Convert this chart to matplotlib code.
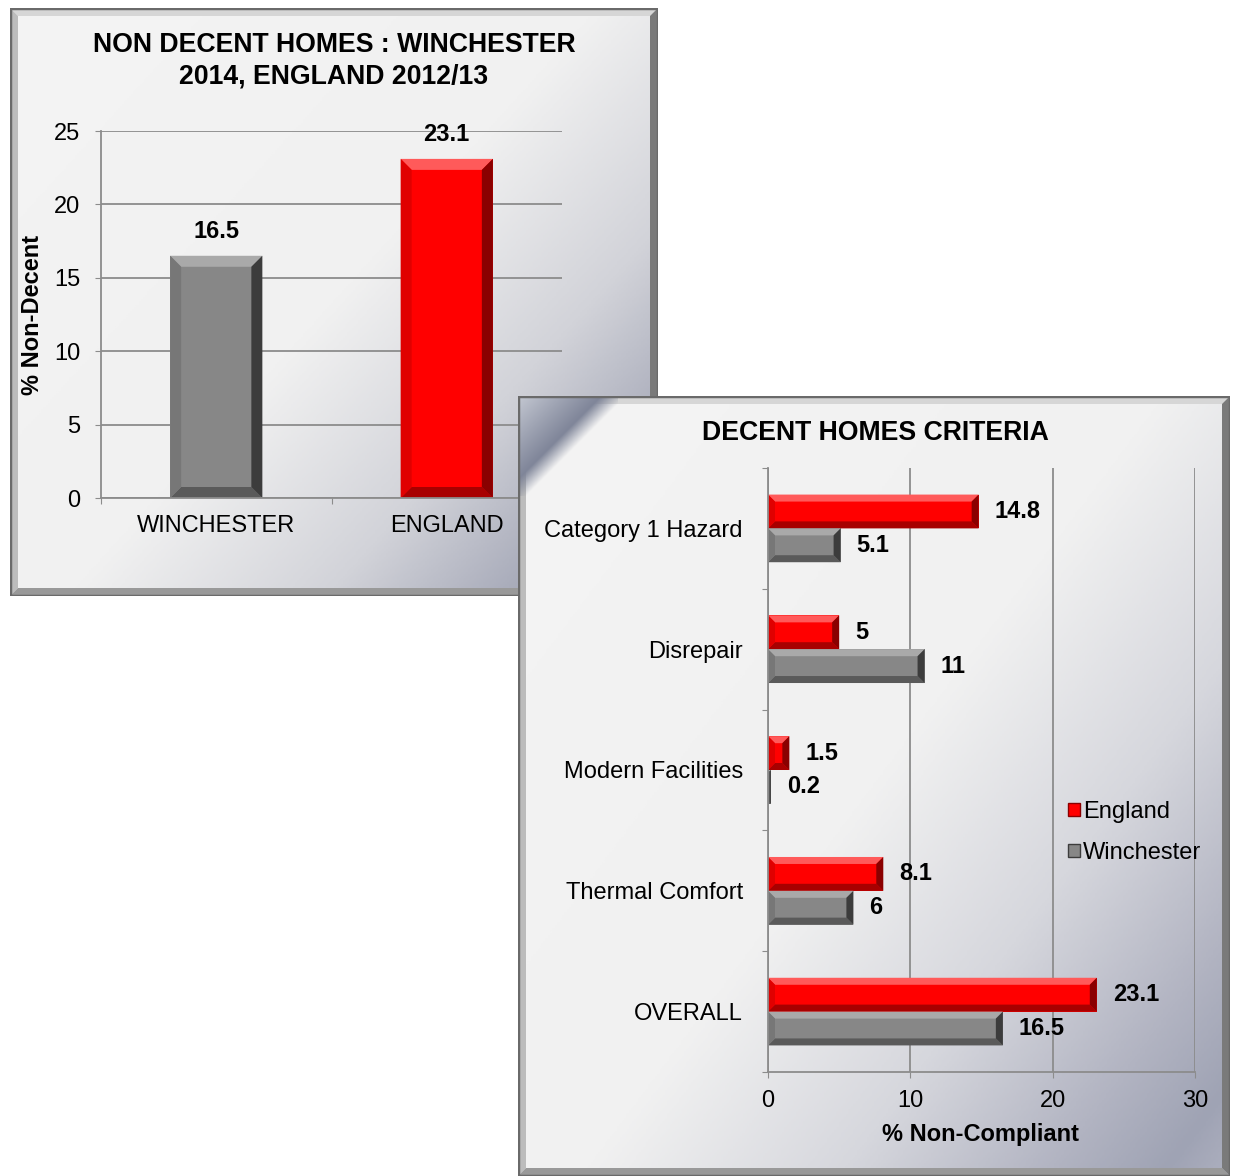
import numpy as np
import matplotlib
matplotlib.use('Agg')
from matplotlib import pyplot as plt
from matplotlib.patches import Polygon, Rectangle
from matplotlib.colors import LinearSegmentedColormap, to_rgb

plt.rcParams['font.family'] = ['Liberation Sans', 'DejaVu Sans']

# data
areas = ['WINCHESTER', 'ENGLAND']
non_decent = [16.5, 23.1]

criteria = ['Category 1 Hazard', 'Disrepair', 'Modern Facilities',
            'Thermal Comfort', 'OVERALL']
england = [14.8, 5, 1.5, 8.1, 23.1]
winchester = [5.1, 11, 0.2, 6, 16.5]

W, H = 1235, 1176
GREY = '#878787'
RED = '#ff0000'
GRID = '#8c8c8c'
FS = 17
SHADES = {
    GREY: ('#a9a9a9', '#777777', '#3c3c3c', '#5a5a5a'),
    RED: ('#ff5a5a', '#e00000', '#8a0000', '#a80000'),
}

fig = plt.figure(figsize=(W / 100, H / 100), dpi=100, facecolor='white')


def frac(l, t, r, b):
    return [l / W, 1 - b / H, (r - l) / W, (b - t) / H]


def panel(l, t, r, b, z, stops):
    bg = fig.add_axes(frac(l, t, r, b))
    bg.set_zorder(z)
    bg.axis('off')
    u = np.linspace(0, 1, 300)
    uu, vv = np.meshgrid(u, u)
    g = 0.55 * uu + 0.45 * vv
    cmap = LinearSegmentedColormap.from_list('bg', stops)
    bg.imshow(g, cmap=cmap, extent=(0, 1, 0, 1), aspect='auto', vmin=0, vmax=1)
    bg.set_xlim(0, 1)
    bg.set_ylim(0, 1)
    # bevelled frame
    bx = 8 / (r - l)
    by = 8 / (b - t)
    sides = [
        ([(0, 1), (1, 1), (1 - bx, 1 - by), (bx, 1 - by)], '#d6d6d6'),
        ([(0, 0), (0, 1), (bx, 1 - by), (bx, by)], '#bcbcbc'),
        ([(1, 0), (1, 1), (1 - bx, 1 - by), (1 - bx, by)], '#7a7a7a'),
        ([(0, 0), (1, 0), (1 - bx, by), (bx, by)], '#999999'),
    ]
    for pts, col in sides:
        bg.add_patch(Polygon(pts, closed=True, facecolor=col, edgecolor='none'))
    return bg


def frame_line(bg):
    bg.add_patch(Rectangle((0, 0), 1, 1, fill=False, edgecolor='#6a6a6a', lw=2.5,
                           zorder=10))


def bevel(ax, bars, px):
    inv = ax.transData.inverted()
    for bar in bars:
        col = matplotlib.colors.to_hex(bar.get_facecolor()).lower()
        top, left, right, bottom = SHADES[GREY if col != RED else RED]
        x0, y0 = bar.get_x(), bar.get_y()
        (X0, Y0), (X1, Y1) = ax.transData.transform(
            [(x0, y0), (x0 + bar.get_width(), y0 + bar.get_height())])
        xl, xr = sorted([X0, X1])
        yb, yt = sorted([Y0, Y1])
        b = min(px, (xr - xl) / 2, (yt - yb) / 2)
        polys = [
            ([(xl, yt), (xr, yt), (xr - b, yt - b), (xl + b, yt - b)], top),
            ([(xl, yb), (xr, yb), (xr - b, yb + b), (xl + b, yb + b)], bottom),
            ([(xl, yb), (xl, yt), (xl + b, yt - b), (xl + b, yb + b)], left),
            ([(xr, yb), (xr, yt), (xr - b, yt - b), (xr - b, yb + b)], right),
        ]
        for pts, c in polys:
            ax.add_patch(Polygon(inv.transform(pts), closed=True, facecolor=c,
                                 edgecolor='none', zorder=bar.get_zorder() + 0.1))


# ---- panel 1 -------------------------------------------------------------
bg1 = panel(10, 8, 658, 596, 0,
            [(0, '#f4f4f4'), (0.5, '#f1f1f1'), (0.72, '#d2d3d9'),
             (0.88, '#a7aab9'), (1, '#b3b5c2')])
frame_line(bg1)

ax1 = fig.add_axes(frac(101, 131, 562, 498))
ax1.set_zorder(1)
ax1.set_facecolor('none')
x = np.arange(len(areas))
bars1 = ax1.bar(x, non_decent, width=0.4, color=[GREY, RED], zorder=2)
ax1.set_xlim(-0.5, 1.5)
ax1.set_ylim(0, 25)
ax1.set_yticks(np.arange(0, 26, 5))
ax1.set_xticks([-0.5, 0.5, 1.5])
ax1.set_xticklabels([])
ax1.set_xticks(x, minor=True)
ax1.set_xticklabels(areas, minor=True)
ax1.tick_params(axis='x', which='minor', length=0, pad=12, labelsize=FS)
ax1.tick_params(axis='x', which='major', length=4.3, color=GRID)
ax1.tick_params(axis='y', length=4.3, pad=10.5, color=GRID, labelsize=FS)
ax1.grid(axis='y', color=GRID, lw=1.3)
ax1.set_axisbelow(True)
for s in ['top', 'right']:
    ax1.spines[s].set_visible(False)
for s in ['left', 'bottom']:
    ax1.spines[s].set_color(GRID)
    ax1.spines[s].set_linewidth(1.3)
bevel(ax1, bars1, 11)
for xi, v in zip(x, non_decent):
    ax1.annotate(f'{v:g}', (xi, v), xytext=(0, 13), textcoords='offset pixels',
                 ha='center', va='bottom', fontsize=FS, fontweight='bold', zorder=5)

fig.text(334 / W, 1 - 45 / H, 'NON DECENT HOMES : WINCHESTER', ha='center',
         va='center', fontsize=19.2, fontweight='bold', zorder=5)
fig.text(334 / W, 1 - 76 / H, '2014, ENGLAND 2012/13', ha='center',
         va='center', fontsize=19.2, fontweight='bold', zorder=5)
fig.text(33 / W, 1 - 315 / H, '% Non-Decent', rotation=90, ha='center',
         va='center', fontsize=FS, fontweight='bold', zorder=5)

# ---- panel 2 -------------------------------------------------------------
bg2 = panel(518, 396, 1230, 1176, 2,
            [(0, '#f4f4f4'), (0.5, '#f1f1f1'), (0.7, '#d6d7dd'),
             (0.86, '#b2b4c2'), (0.95, '#9fa3b4'), (1, '#adb0bf')])
# folded corner shading
cw = 100 / 712
ch = 100 / 780
n = 120
cu = np.linspace(0, 1, n)
cx, cy = np.meshgrid(cu, cu)
d = cx + cy
light = np.array(to_rgb('#c4c8d2'))
dark = np.array(to_rgb('#7e8498'))
mix = np.clip(d / 0.85, 0, 1)[..., None]
rgba = np.zeros((n, n, 4))
rgba[..., :3] = light * (1 - mix) + dark * mix
rgba[..., 3] = np.clip((1.08 - d) / 0.25, 0, 1)
bg2.imshow(rgba, extent=(0, cw, 1 - ch, 1), aspect='auto',
           interpolation='bilinear', zorder=3)
bg2.set_xlim(0, 1)
bg2.set_ylim(0, 1)
frame_line(bg2)

ax2 = fig.add_axes(frac(768, 468, 1195, 1072))
ax2.set_zorder(3)
ax2.set_facecolor('none')
y = np.arange(len(criteria))
h = 0.28
b_eng = ax2.barh(y - h / 2, england, height=h, color=RED, zorder=2, label='England')
b_win = ax2.barh(y + h / 2, winchester, height=h, color=GREY, zorder=2,
                 label='Winchester')
ax2.set_xlim(0, 30)
ax2.set_ylim(len(criteria) - 0.5, -0.5)
ax2.set_xticks([0, 10, 20, 30])
ax2.set_yticks(np.arange(-0.5, len(criteria), 1))
ax2.set_yticklabels([])
ax2.set_yticks(y, minor=True)
ax2.set_yticklabels(criteria, minor=True)
ax2.tick_params(axis='y', which='minor', length=0, pad=18, labelsize=FS)
ax2.tick_params(axis='y', which='major', length=4.3, color=GRID)
ax2.tick_params(axis='x', length=4.3, pad=8.5, color=GRID, labelsize=FS)
ax2.grid(axis='x', color=GRID, lw=1.3)
ax2.set_axisbelow(True)
for s in ['top', 'right']:
    ax2.spines[s].set_visible(False)
for s in ['left', 'bottom']:
    ax2.spines[s].set_color(GRID)
    ax2.spines[s].set_linewidth(1.3)
bevel(ax2, list(b_eng) + list(b_win), 7)
for bars, vals in [(b_eng, england), (b_win, winchester)]:
    for bar, v in zip(bars, vals):
        ax2.annotate(f'{v:g}', (v, bar.get_y() + bar.get_height() / 2),
                     xytext=(16, 0), textcoords='offset pixels', ha='left',
                     va='center', fontsize=FS, fontweight='bold', zorder=5)

handles = [Rectangle((0, 0), 1, 1, facecolor=RED, edgecolor='#8a0000', lw=1),
           Rectangle((0, 0), 1, 1, facecolor=GREY, edgecolor='#3c3c3c', lw=1)]
ax2.legend(handles, ['England', 'Winchester'], loc='upper left',
           bbox_to_anchor=(1056 / W, 1 - 789 / H), bbox_transform=fig.transFigure,
           frameon=False, borderpad=0, handlelength=0.5, handleheight=0.5,
           handletextpad=0.15, labelspacing=0.8, fontsize=FS)

fig.text(875 / W, 1 - 433 / H, 'DECENT HOMES CRITERIA', ha='center',
         va='center', fontsize=19.2, fontweight='bold', zorder=6)
fig.text(981 / W, 1 - 1135 / H, '% Non-Compliant', ha='center',
         va='center', fontsize=FS, fontweight='bold', zorder=6)

fig.savefig('out.png', dpi=100, facecolor='white')
